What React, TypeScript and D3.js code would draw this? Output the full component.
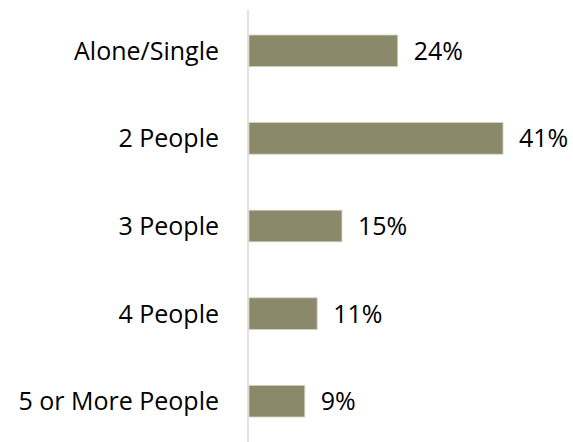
import React from "react";
import * as d3 from "d3";

const categories = ["Alone/Single", "2 People", "3 People", "4 People", "5 or More People"];
const values = [24, 41, 15, 11, 9];

export default function App() {
  const width = 573;
  const height = 442;
  const x0 = 248;
  const x = d3.scaleLinear().domain([0, 41]).range([0, 254]);
  const y = d3.scaleBand<string>().domain(categories).range([7, 445]).paddingInner(0.64).paddingOuter(0.32);
  const font = "'Open Sans', sans-serif";
  return (
    <svg width={width} height={height} style={{ position: "absolute", left: 0, top: 0 }}>
      <rect width={width} height={height} fill="#fff" />
      <line x1={x0} x2={x0} y1={10} y2={442} stroke="#d9d9d9" strokeWidth={1.5} />
      {categories.map((c, i) => {
        const yy = y(c)!;
        const bw = y.bandwidth();
        const w = x(values[i]);
        const base = yy + bw / 2 + 9;
        return (
          <g key={c}>
            <rect x={x0 + 1} y={yy} width={w} height={bw} fill="#8A8A6B" stroke="#cfcfbd" strokeWidth={0.8} />
            <text x={219} y={base} textAnchor="end" fontFamily={font} fontSize={25} fill="#000">{c}</text>
            <text x={x0 + 1 + w + 16} y={base} textAnchor="start" fontFamily={font} fontSize={25} fill="#000">{values[i]}%</text>
          </g>
        );
      })}
    </svg>
  );
}
